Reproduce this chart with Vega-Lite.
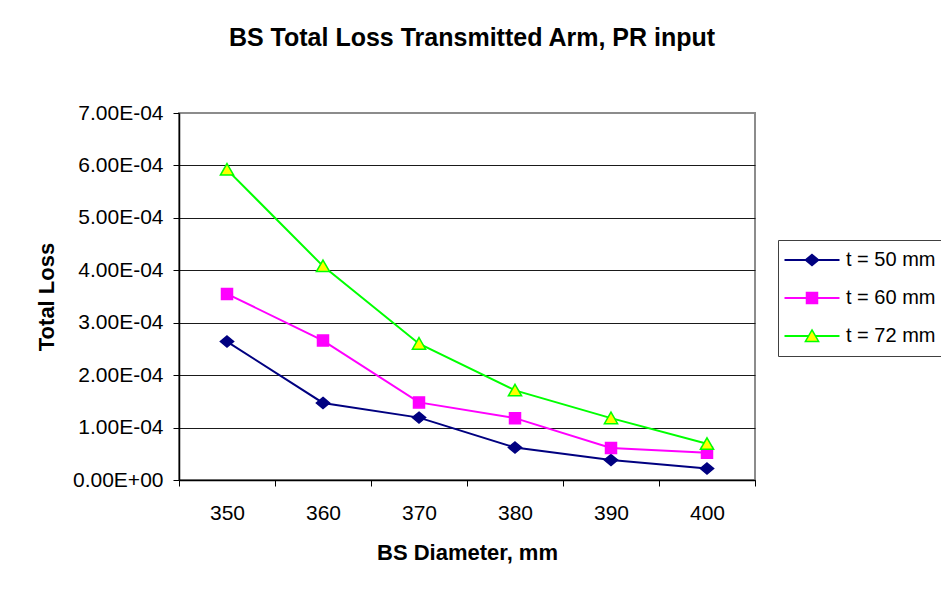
{
  "$schema": "https://vega.github.io/schema/vega-lite/v6.json",
  "width": 576,
  "height": 367,
  "autosize": {"type": "none"},
  "padding": {"left": 179, "top": 113, "right": 186, "bottom": 116},
  "background": "white",
  "title": {
    "text": "BS Total Loss Transmitted Arm, PR input",
    "fontSize": 25,
    "fontWeight": "bold",
    "anchor": "middle",
    "frame": "group",
    "baseline": "alphabetic",
    "offset": 31,
    "dx": 5,
    "color": "black"
  },
  "data": {
    "values": [
      {"d": 350, "t": 50, "series": "t = 50 mm", "loss": 0.000264},
      {"d": 360, "t": 50, "series": "t = 50 mm", "loss": 0.000147},
      {"d": 370, "t": 50, "series": "t = 50 mm", "loss": 0.000119},
      {"d": 380, "t": 50, "series": "t = 50 mm", "loss": 0.000062},
      {"d": 390, "t": 50, "series": "t = 50 mm", "loss": 0.000038},
      {"d": 400, "t": 50, "series": "t = 50 mm", "loss": 0.000022},
      {"d": 350, "t": 60, "series": "t = 60 mm", "loss": 0.000355},
      {"d": 360, "t": 60, "series": "t = 60 mm", "loss": 0.000266},
      {"d": 370, "t": 60, "series": "t = 60 mm", "loss": 0.000148},
      {"d": 380, "t": 60, "series": "t = 60 mm", "loss": 0.000118},
      {"d": 390, "t": 60, "series": "t = 60 mm", "loss": 0.000061},
      {"d": 400, "t": 60, "series": "t = 60 mm", "loss": 0.000052},
      {"d": 350, "t": 72, "series": "t = 72 mm", "loss": 0.000592},
      {"d": 360, "t": 72, "series": "t = 72 mm", "loss": 0.000408},
      {"d": 370, "t": 72, "series": "t = 72 mm", "loss": 0.000260},
      {"d": 380, "t": 72, "series": "t = 72 mm", "loss": 0.000171},
      {"d": 390, "t": 72, "series": "t = 72 mm", "loss": 0.000118},
      {"d": 400, "t": 72, "series": "t = 72 mm", "loss": 0.000069}
    ]
  },
  "encoding": {
    "x": {
      "field": "d",
      "type": "quantitative",
      "scale": {"domain": [345, 405], "nice": false, "zero": false},
      "axis": {
        "values": [345, 355, 365, 375, 385, 395, 405],
        "labelOffset": 48,
        "labelExpr": "datum.value < 400 ? format(datum.value + 5, 'd') : ''",
        "labelOverlap": false,
        "labelFlush": false,
        "labelBound": false,
        "grid": false,
        "tickSize": 6,
        "labelPadding": 16,
        "title": "BS Diameter, mm",
        "titlePadding": 19
      }
    },
    "y": {
      "field": "loss",
      "type": "quantitative",
      "scale": {"domain": [0, 0.0007], "nice": false},
      "axis": {
        "values": [0, 0.0001, 0.0002, 0.0003, 0.0004, 0.0005, 0.0006, 0.0007],
        "labelExpr": "datum.value == 0 ? '0.00E+00' : format(datum.value * 10000, '.2f') + 'E-04'",
        "labelOverlap": false,
        "labelFlush": false,
        "labelBound": false,
        "grid": true,
        "gridColor": {"condition": {"test": "datum.value >= 0.00069", "value": "#8c8c8c"}, "value": "#1a1a1a"},
        "gridWidth": 1,
        "tickSize": 6,
        "labelPadding": 10,
        "title": "Total Loss",
        "titlePadding": 14
      }
    }
  },
  "layer": [
    {
      "mark": {"type": "line", "strokeWidth": 2},
      "encoding": {
        "color": {
          "field": "series",
          "type": "nominal",
          "scale": {"domain": ["t = 50 mm", "t = 60 mm", "t = 72 mm"], "range": ["#000080", "#FF00FF", "#00FF00"]},
          "legend": {
            "title": null,
            "orient": "none",
            "legendX": 599,
            "legendY": 127,
            "strokeColor": "#404040",
            "padding": 10,
            "labelFontSize": 20,
            "labelColor": "black",
            "symbolType": "M-5,0H5",
            "symbolSize": 121,
            "symbolStrokeWidth": 2,
            "symbolOffset": 14,
            "labelOffset": 24,
            "rowPadding": 18
          }
        }
      }
    },
    {
      "mark": {"type": "point", "filled": true, "size": 121, "strokeWidth": 1.5, "opacity": 1},
      "encoding": {
        "fill": {
          "field": "t",
          "type": "nominal",
          "scale": {"domain": [50, 60, 72], "range": ["#000080", "#FF00FF", "#FFFF00"]},
          "legend": {
            "title": null,
            "orient": "none",
            "legendX": 599,
            "legendY": 127,
            "padding": 10,
            "labelFontSize": 20,
            "labelExpr": "' '",
            "symbolSize": 121,
            "symbolStrokeWidth": 1.5,
            "symbolOffset": 14,
            "labelOffset": 24,
            "rowPadding": 18
          }
        },
        "stroke": {
          "field": "t",
          "type": "nominal",
          "scale": {"domain": [50, 60, 72], "range": ["#000080", "#FF00FF", "#00FF00"]},
          "legend": {
            "title": null,
            "orient": "none",
            "legendX": 599,
            "legendY": 127,
            "padding": 10,
            "labelFontSize": 20,
            "labelExpr": "' '",
            "symbolSize": 121,
            "symbolStrokeWidth": 1.5,
            "symbolOffset": 14,
            "labelOffset": 24,
            "rowPadding": 18
          }
        },
        "shape": {
          "field": "t",
          "type": "nominal",
          "scale": {"domain": [50, 60, 72], "range": ["M0,-1L1.2,0L0,1L-1.2,0Z", "M-1,-1H1V1H-1Z", "M0,-1.1L1.2,1L-1.2,1Z"]},
          "legend": {
            "title": null,
            "orient": "none",
            "legendX": 599,
            "legendY": 127,
            "padding": 10,
            "labelFontSize": 20,
            "labelExpr": "' '",
            "symbolSize": 121,
            "symbolStrokeWidth": 1.5,
            "symbolOffset": 14,
            "labelOffset": 24,
            "rowPadding": 18
          }
        }
      }
    }
  ],
  "config": {
    "font": "Liberation Sans",
    "view": {"stroke": "#8c8c8c", "strokeWidth": 2},
    "axis": {
      "labelFontSize": 21,
      "labelColor": "black",
      "titleFontSize": 22,
      "titleFontWeight": "bold",
      "titleColor": "black",
      "tickColor": "black",
      "domainColor": "black",
      "domainWidth": 1.5,
      "tickWidth": 1
    }
  }
}
